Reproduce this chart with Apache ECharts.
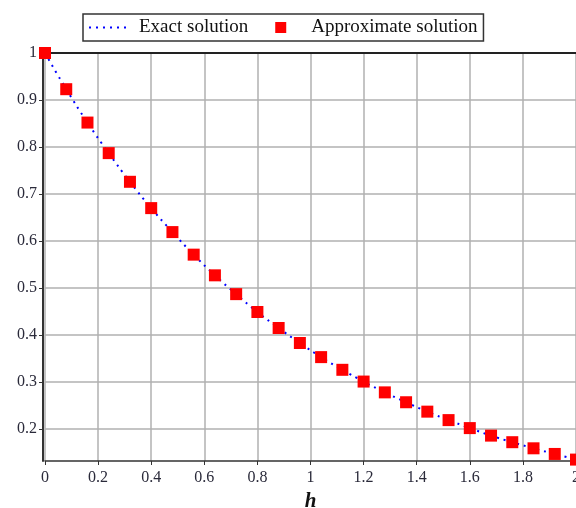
<!DOCTYPE html>
<html>
<head>
<meta charset="utf-8">
<style>
  html, body { margin: 0; padding: 0; background: #fff; overflow: hidden; }
  #chart { width: 576px; height: 508px; }
</style>
<script src="https://cdn.jsdelivr.net/npm/echarts@6/dist/echarts.min.js"></script>
</head>
<body>
<div id="chart"></div>
<script>
// Step sizes h and the solution values at each step
const hValues = [0, 0.08, 0.16, 0.24, 0.32, 0.40, 0.48, 0.56, 0.64, 0.72, 0.80, 0.88, 0.96,
                 1.04, 1.12, 1.20, 1.28, 1.36, 1.44, 1.52, 1.60, 1.68, 1.76, 1.84, 1.92, 2.00];
const exactValues = [1.000, 0.923, 0.852, 0.787, 0.726, 0.670, 0.619, 0.571, 0.527, 0.487, 0.449, 0.415, 0.383,
                     0.353, 0.326, 0.301, 0.278, 0.257, 0.237, 0.219, 0.202, 0.186, 0.172, 0.159, 0.147, 0.135];
const approxValues = [1.000, 0.923, 0.852, 0.787, 0.726, 0.670, 0.619, 0.571, 0.527, 0.487, 0.449, 0.415, 0.383,
                      0.353, 0.326, 0.301, 0.278, 0.257, 0.237, 0.219, 0.202, 0.186, 0.172, 0.159, 0.147, 0.135];
const yTicks = [0.2, 0.3, 0.4, 0.5, 0.6, 0.7, 0.8, 0.9, 1];
const seriesNames = ['Exact solution', 'Approximate solution'];

const serif = '"Liberation Serif", "DejaVu Serif", serif';
const labelColor = '#2a2a3a';
const squareIcon = 'path://M0,0L10,0L10,10L0,10Z';

const chart = echarts.init(document.getElementById('chart'), null, { renderer: 'canvas' });
chart.setOption({
  animation: false,
  backgroundColor: '#fff',
  legend: {
    left: 83,
    top: 14,
    padding: [4, 6, 4, 5],
    itemWidth: 39,
    itemHeight: 11,
    itemGap: 27,
    borderColor: '#333',
    borderWidth: 1.5,
    borderRadius: 0,
    textStyle: { fontFamily: serif, fontSize: 19, color: '#111', padding: [0, 0, 0, 6] },
    data: [
      // dotted line only, no marker on the line sample
      { name: seriesNames[0], itemStyle: { opacity: 0 } },
      { name: seriesNames[1], icon: squareIcon }
    ]
  },
  grid: { left: 45, right: 0, top: 53, bottom: 47, containLabel: false, outerBoundsMode: 'none' },
  xAxis: [{
    type: 'value',
    min: 0,
    max: 2,
    interval: 0.2,
    name: 'h',
    nameLocation: 'middle',
    nameGap: 27,
    nameTextStyle: { fontFamily: serif, fontSize: 21, fontWeight: 'bold', fontStyle: 'italic', color: '#111' },
    axisLine: { show: true, onZero: false, lineStyle: { color: '#333', width: 1.5 } },
    axisTick: { show: true, length: 4, lineStyle: { color: '#333', width: 1 } },
    axisLabel: { fontFamily: serif, fontSize: 16, color: labelColor, margin: 9 },
    splitLine: { show: true, lineStyle: { color: '#b0b0b0', width: 1.5 } }
  }, {
    type: 'value',
    position: 'top',
    min: 0,
    max: 2,
    axisLine: { show: true, lineStyle: { color: '#222', width: 2 } },
    axisTick: { show: false },
    axisLabel: { show: false },
    splitLine: { show: false }
  }],
  yAxis: {
    type: 'value',
    min: 0.132,
    max: 1,
    offset: 2,
    axisLine: { show: true, onZero: false, lineStyle: { color: '#333', width: 2 } },
    axisTick: { show: true, length: 4, customValues: yTicks, lineStyle: { color: '#333', width: 1 } },
    axisLabel: { fontFamily: serif, fontSize: 16, color: labelColor, margin: 6, customValues: yTicks,
                 formatter: v => String(Math.round(v * 10) / 10) },
    splitLine: { show: true, lineStyle: { color: '#b0b0b0', width: 1.5 } }
  },
  series: [{
    name: seriesNames[0],
    type: 'line',
    xAxisIndex: 0,
    data: hValues.map((h, i) => [h, exactValues[i]]),
    smooth: true,
    symbol: 'none',
    itemStyle: { color: '#0000ff' },
    lineStyle: { color: '#0000ff', width: 2, type: [2, 5] },
    z: 2
  }, {
    name: seriesNames[1],
    type: 'scatter',
    xAxisIndex: 0,
    data: hValues.map((h, i) => [h, approxValues[i]]),
    symbol: 'rect',
    symbolSize: 12,
    itemStyle: { color: '#ff0000', opacity: 1 },
    z: 3
  }]
});
</script>
</body>
</html>
